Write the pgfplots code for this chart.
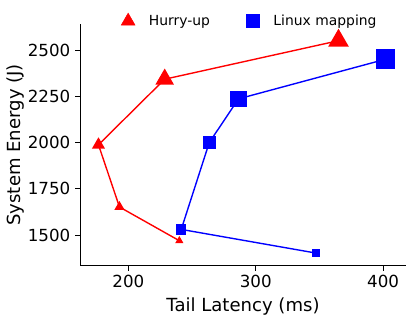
\documentclass[border=0pt]{standalone}
\usepackage{fontspec}
\setmainfont{DejaVu Sans}
\usepackage{pgfplots}
\pgfplotsset{compat=1.18}
\begin{document}
\begin{tikzpicture}
\begin{axis}[
  scale only axis, width=234.7pt, height=174pt,
  xmin=162, xmax=418, ymin=1335, ymax=2640,
  axis x line*=bottom, axis y line*=left,
  axis line style={line width=0.6pt},
  xtick={200,300,400}, ytick={1500,1750,2000,2250,2500},
  tick align=outside, major tick length=3.5pt,
  tick style={line width=0.6pt, black},
  /pgf/number format/assume math mode=true,
  /pgf/number format/1000 sep={},
  tick label style={font=\fontsize{12}{14}\selectfont},
  label style={font=\fontsize{13}{15}\selectfont},
  xlabel={Tail Latency (ms)}, ylabel={System Energy (J)},
  ylabel style={yshift=-4.5pt},
  legend columns=2,
  legend image code/.code={\draw[#1] plot coordinates {(0pt,0pt)}; \path[draw=none,fill=none] (0pt,0pt) -- (13pt,0pt);},
  legend style={draw=none, fill=none, font=\fontsize{10}{12}\selectfont,
    at={(0.113,1.012)}, anchor=west,
    /tikz/every even column/.append style={column sep=24pt}},
]
\addplot[red, line width=1pt, mark=triangle*, forget plot,
  scatter, scatter src=explicit,
  scatter/use mapped color={draw=red, fill=red},
  visualization depends on={\thisrow{s} \as \ms},
  scatter/@pre marker code/.append style={/tikz/mark size=\ms pt}]
  table[x=x, y=y, meta=s]{
x y s
240 1470 2.4
193 1652 3.3
176.5 1988 4.4
228.5 2342 6.7
365 2550 7.6
};
\addplot[blue, line width=1pt, mark=square*, forget plot,
  scatter, scatter src=explicit,
  scatter/use mapped color={draw=blue, fill=blue},
  visualization depends on={\thisrow{s} \as \ms},
  scatter/@pre marker code/.append style={/tikz/mark size=\ms pt}]
  table[x=x, y=y, meta=s]{
x y s
347.5 1403 2.3
241.5 1531 3.2
263.5 2000 4.2
286.5 2236 5.3
402 2450 6.6
};
\addlegendimage{only marks, mark=triangle*, red, mark size=5.7pt}
\addlegendentry{Hurry-up}
\addlegendimage{only marks, mark=square*, blue, mark size=4.7pt}
\addlegendentry{Linux mapping}
\end{axis}
\pgfresetboundingbox
\useasboundingbox ([xshift=-57.6pt,yshift=-37.4pt]current axis.south west) rectangle ([xshift=7.2pt,yshift=17.3pt]current axis.north east);
\end{tikzpicture}
\end{document}
